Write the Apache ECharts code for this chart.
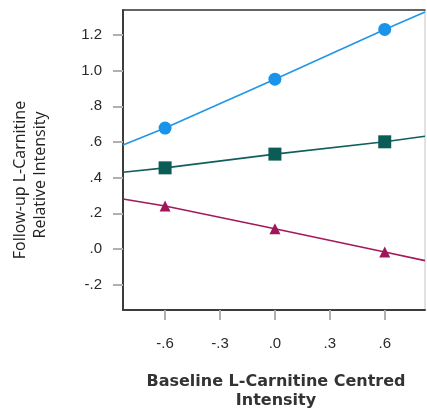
<!DOCTYPE html>
<html>
<head>
<meta charset="utf-8">
<script src="https://cdn.jsdelivr.net/npm/echarts@6/dist/echarts.min.js"></script>
<style>html,body{margin:0;padding:0;background:#fff;}#c{width:427px;height:415px;}</style>
</head>
<body>
<div id="c"></div>
<script>
// x positions of plotted points
const xPoints = [-0.6, 0, 0.6];
// x extent of the plot (fit lines run edge to edge)
const xMin = -0.83, xMax = 0.82;
const yMin = -0.342, yMax = 1.34;
const xTicks = [-0.6, -0.3, 0, 0.3, 0.6];
const yTicks = [-0.2, 0, 0.2, 0.4, 0.6, 0.8, 1.0, 1.2];

// series values at xPoints
const blueVals = [0.678, 0.952, 1.231];
const greenVals = [0.455, 0.532, 0.601];
const redVals = [0.241, 0.114, -0.017];
// fit-line values read at the plot edges [left, right]
const blueEnds = [0.583, 1.329];
const greenEnds = [0.430, 0.632];
const redEnds = [0.280, -0.065];

const fmt = v => { const s = (+v).toFixed(1); return s.replace(/^(-?)0\./, '$1.'); };

function build(vals, ends) {
  const d = [{value: [xMin, ends[0]], symbolSize: 0}];
  xPoints.forEach((x, i) => d.push({value: [x, vals[i]]}));
  d.push({value: [xMax, ends[1]], symbolSize: 0});
  return d;
}

const chart = echarts.init(document.getElementById('c'));
chart.setOption({
  animation: false,
  grid: {left: 123, top: 10, right: 2, bottom: 105, show: true, borderColor: '#c4c4c4', borderWidth: 1},
  xAxis: [{
    type: 'value', min: xMin, max: xMax,
    axisLine: {show: true, onZero: false, lineStyle: {color: '#3c3c3c', width: 2}},
    axisTick: {show: true, length: 10, customValues: xTicks, lineStyle: {color: '#b0b0b0', width: 2}},
    axisLabel: {customValues: xTicks, formatter: fmt, margin: 26, color: '#2a2a2a', fontSize: 15, fontFamily: 'Liberation Sans'},
    splitLine: {show: false}
  }, {
    type: 'value', position: 'top', min: xMin, max: xMax,
    axisLine: {show: true, onZero: false, lineStyle: {color: '#3c3c3c', width: 1.5}},
    axisTick: {show: false}, axisLabel: {show: false}, splitLine: {show: false}
  }],
  yAxis: {
    type: 'value', min: yMin, max: yMax,
    axisLine: {show: true, onZero: false, lineStyle: {color: '#3c3c3c', width: 2}},
    axisTick: {show: true, length: 10, customValues: yTicks, lineStyle: {color: '#b0b0b0', width: 2}},
    axisLabel: {customValues: yTicks, formatter: fmt, margin: 21, color: '#2a2a2a', fontSize: 15, fontFamily: 'Liberation Sans'},
    splitLine: {show: false}
  },
  series: [
    {type: 'line', data: build(blueVals, blueEnds), symbol: 'circle', symbolSize: 13, showAllSymbol: true,
     lineStyle: {color: '#2196e6', width: 1.6}, itemStyle: {color: '#1a94e8'}},
    {type: 'line', data: build(greenVals, greenEnds), symbol: 'rect', symbolSize: 13, showAllSymbol: true,
     lineStyle: {color: '#0f5f5a', width: 1.6}, itemStyle: {color: '#0b5c56'}},
    {type: 'line', data: build(redVals, redEnds), symbol: 'triangle', symbolSize: 11, showAllSymbol: true,
     lineStyle: {color: '#a3195a', width: 1.6}, itemStyle: {color: '#a0165a'}}
  ],
  graphic: [
    {type: 'text', x: 276, y: 382, style: {text: 'Baseline L-Carnitine Centred', font: 'bold 16px "DejaVu Sans"', fill: '#333', textAlign: 'center', textVerticalAlign: 'middle'}},
    {type: 'text', x: 276, y: 401, style: {text: 'Intensity', font: 'bold 16px "DejaVu Sans"', fill: '#333', textAlign: 'center', textVerticalAlign: 'middle'}},
    {type: 'text', x: 20, y: 180, rotation: Math.PI / 2, style: {text: 'Follow-up L-Carnitine', font: '16px "Open Sans"', fill: '#222', textAlign: 'center', textVerticalAlign: 'middle'}},
    {type: 'text', x: 40, y: 175, rotation: Math.PI / 2, style: {text: 'Relative Intensity', font: '16px "Open Sans"', fill: '#222', textAlign: 'center', textVerticalAlign: 'middle'}}
  ]
});
</script>
</body>
</html>
